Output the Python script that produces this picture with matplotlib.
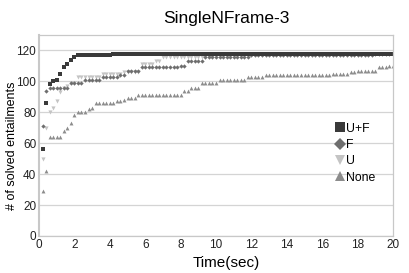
import matplotlib
matplotlib.use("Agg")
import matplotlib.pyplot as plt
import numpy as np

plt.rcParams['font.family'] = ['Liberation Sans', 'DejaVu Sans']

time_sec = [round(0.2 * i, 1) for i in range(1, 101)]

uf = [56, 86, 98, 100, 101, 105, 109, 111, 114, 116,
      117, 117, 117, 117, 117, 117, 117, 117, 117, 117,
      118, 118, 118, 118, 118, 118, 118, 118, 118, 118,
      118, 118, 118, 118, 118, 118, 118, 118, 118, 118,
      118, 118, 118, 118, 118, 118, 118, 118, 118, 118,
      118, 118, 118, 118, 118, 118, 118, 118, 118, 118,
      118, 118, 118, 118, 118, 118, 118, 118, 118, 118,
      118, 118, 118, 118, 118, 118, 118, 118, 118, 118,
      118, 118, 118, 118, 118, 118, 118, 118, 118, 118,
      118, 118, 118, 118, 118, 118, 118, 118, 118, 118]

f = [71, 94, 96, 96, 96, 96, 96, 96, 99, 99,
     99, 99, 101, 101, 101, 101, 101, 103, 103, 103,
     103, 103, 104, 104, 107, 107, 107, 107, 109, 109,
     109, 109, 109, 109, 109, 109, 109, 109, 109, 110,
     110, 113, 113, 113, 113, 113, 116, 116, 116, 116,
     116, 116, 116, 116, 116, 116, 116, 116, 116, 117,
     117, 117, 117, 117, 117, 117, 117, 117, 117, 117,
     117, 117, 117, 117, 117, 117, 117, 117, 117, 117,
     117, 117, 117, 117, 117, 117, 117, 117, 117, 117,
     117, 117, 117, 117, 118, 118, 118, 118, 118, 118]

u = [50, 70, 80, 83, 87, 93, 96, 97, 99, 99,
     103, 103, 103, 103, 103, 103, 103, 105, 105, 105,
     105, 105, 105, 106, 106, 106, 106, 106, 111, 111,
     111, 111, 113, 113, 116, 116, 116, 116, 116, 116,
     116, 116, 116, 116, 116, 116, 116, 116, 116, 117,
     117, 117, 117, 117, 117, 117, 117, 117, 117, 117,
     117, 117, 117, 117, 117, 117, 117, 117, 117, 117,
     117, 117, 117, 117, 117, 117, 117, 117, 117, 117,
     117, 117, 117, 117, 117, 117, 117, 117, 117, 117,
     117, 117, 117, 117, 118, 118, 118, 118, 118, 118]

none = [29, 42, 64, 64, 64, 64, 68, 70, 73, 78,
        80, 80, 80, 82, 83, 86, 86, 86, 86, 86,
        86, 87, 87, 88, 89, 89, 89, 91, 91, 91,
        91, 91, 91, 91, 91, 91, 91, 91, 91, 91,
        94, 94, 96, 96, 96, 99, 99, 99, 99, 99,
        101, 101, 101, 101, 101, 101, 101, 101, 103, 103,
        103, 103, 103, 104, 104, 104, 104, 104, 104, 104,
        104, 104, 104, 104, 104, 104, 104, 104, 104, 104,
        104, 104, 105, 105, 105, 105, 105, 106, 106, 107,
        107, 107, 107, 107, 107, 109, 109, 109, 110, 110]

series_labels = ['U+F', 'F', 'U', 'None']
x_ticks = [0, 2, 4, 6, 8, 10, 12, 14, 16, 18, 20]
y_ticks = [0, 20, 40, 60, 80, 100, 120]

fig = plt.figure(figsize=(4.09, 2.73), dpi=100)
ax = fig.add_axes([39/409, 1-236/273, (393-39)/409, (236-35)/273])

styles = [
    dict(marker='s', color='#3a3a3a', ms=2.9),
    dict(marker='D', color='#6e6e6e', ms=2.2),
    dict(marker='v', color='#c4c4c4', ms=3.0),
    dict(marker='^', color='#8c8c8c', ms=2.8),
]
data = [uf, f, u, none]
for vals, st, lab in zip(data[::-1], styles[::-1], series_labels[::-1]):
    ax.plot(time_sec, vals, linestyle='none', marker=st['marker'],
            color=st['color'], markersize=st['ms'], markeredgewidth=0,
            label=lab)

ax.set_xlim(0, 20)
ax.set_ylim(0, 130)
ax.set_xticks(x_ticks)
ax.set_yticks(y_ticks)
ax.tick_params(length=0, labelsize=8.5, pad=2, colors='#222222')
ax.grid(axis='y', color='#d4d4d4', linewidth=0.9)
ax.set_axisbelow(True)
for s in ['top', 'right', 'bottom']:
    ax.spines[s].set_color('#c8c8c8')
    ax.spines[s].set_linewidth(0.9)
ax.spines['left'].set_color('#c8c8c8')
ax.spines['left'].set_linewidth(1.5)

ax.set_title('SingleNFrame-3', fontsize=12.5, pad=9, x=0.53)
ax.set_xlabel('Time(sec)', fontsize=11, labelpad=4, x=0.53)
ax.set_ylabel('# of solved entailments', fontsize=9, labelpad=-1, y=0.45)

leg_handles = []
for st, lab in zip(styles, series_labels):
    leg_handles.append(plt.Line2D([], [], linestyle='none', marker=st['marker'],
                                  color=st['color'], markersize=6.5,
                                  markeredgewidth=0, label=lab))
ax.legend(handles=leg_handles, loc='upper left', bbox_to_anchor=(0.82, 0.60),
          frameon=False, fontsize=8.8, handlelength=0.6, handletextpad=0.2,
          labelspacing=0.35, borderpad=0.1)

fig.savefig('out.png', dpi=100)
